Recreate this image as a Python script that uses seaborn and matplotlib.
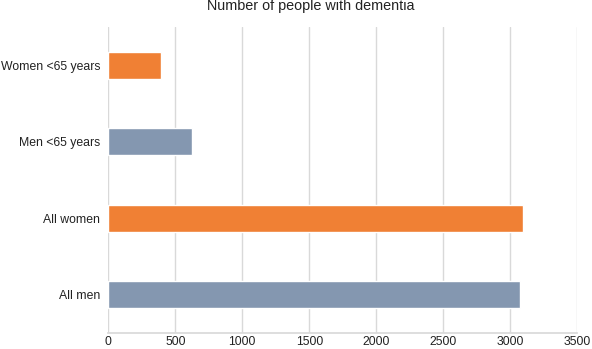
import pandas as pd
import seaborn as sns
import matplotlib.pyplot as plt

groups = ['Women <65 years', 'Men <65 years', 'All women', 'All men']
people = [395, 625, 3095, 3075]
colours = ['#F08034', '#8497B0', '#F08034', '#8497B0']

df = pd.DataFrame({'group': groups, 'people': people})

sns.set_theme(style='white')
plt.rcParams['font.family'] = ['Liberation Sans', 'DejaVu Sans']

fig = plt.figure(figsize=(5.92, 3.49), dpi=100)
ax = fig.add_axes([0.183, 0.046, 0.792, 0.877])

sns.barplot(data=df, x='people', y='group', hue='group', palette=colours,
            width=0.35, legend=False, saturation=1, ax=ax)

ax.set_xlim(0, 3500)
ax.set_ylim(3.5, -0.5)
ax.set_xticks(range(0, 3501, 500))
ax.xaxis.grid(True, color='#D9D9D9', linewidth=1)
ax.set_axisbelow(True)
for s in ['top', 'right', 'left']:
    ax.spines[s].set_visible(False)
ax.spines['bottom'].set_color('#D9D9D9')
ax.tick_params(axis='both', length=0, labelsize=8.8, colors='#222222')
ax.tick_params(axis='x', pad=2)
ax.tick_params(axis='y', pad=6)
ax.set_xlabel('')
ax.set_ylabel('')

fig.text(0.525, 0.971, 'Number of people with dementia', ha='center',
         va='baseline', fontsize=10.4, color='#222222')

fig.savefig('out.png', dpi=100)
